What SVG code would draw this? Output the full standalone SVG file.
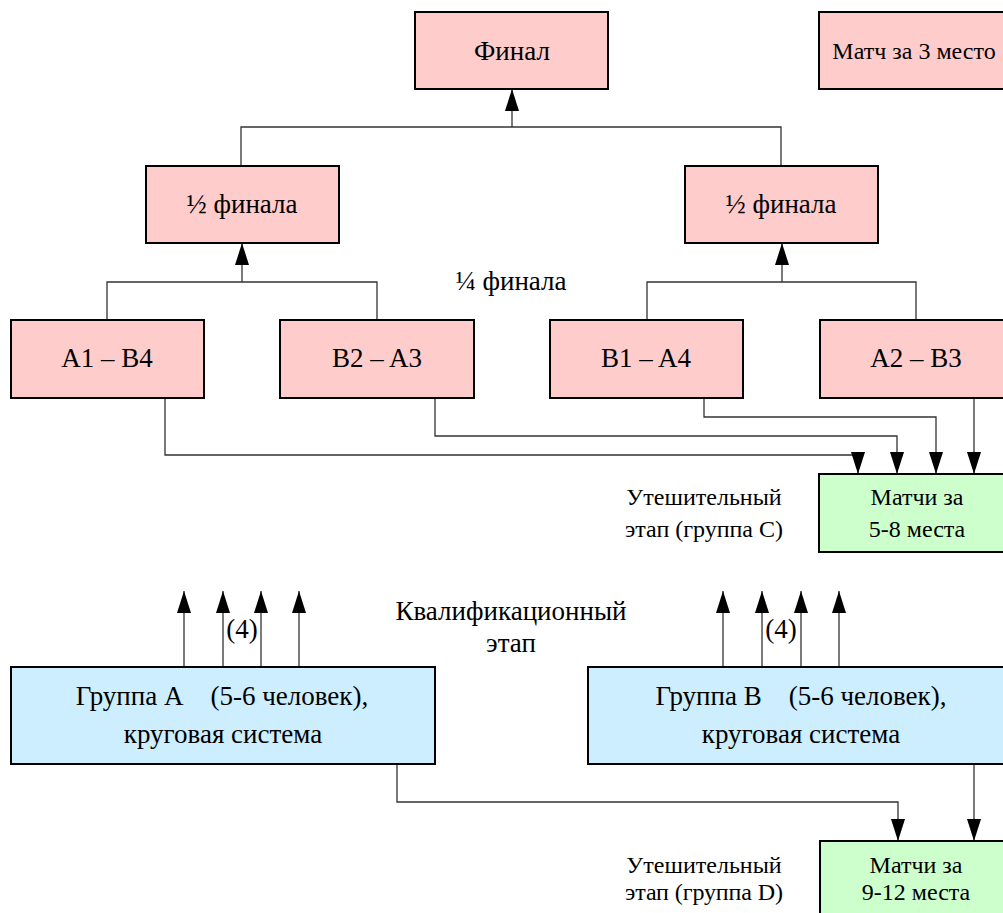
<svg xmlns="http://www.w3.org/2000/svg" width="1003" height="913" viewBox="0 0 1003 913">
<style>
.t text{font-family:'Liberation Serif','Times New Roman',serif;font-size:27px;fill:#000;text-anchor:middle;white-space:pre}
.t text.s{font-size:24px}
.pink{fill:#ffcccc;stroke:#000;stroke-width:2}
.green{fill:#ccffcc;stroke:#000;stroke-width:2}
.blue{fill:#cceeff;stroke:#000;stroke-width:2}
.c{fill:none;stroke:#333;stroke-width:1.3}
.ca{fill:none;stroke:#333;stroke-width:1.3;marker-end:url(#ah)}
</style>
<defs>
<marker id="ah" markerUnits="userSpaceOnUse" markerWidth="22" markerHeight="14" viewBox="0 0 22 14" refX="22" refY="7" orient="auto">
<path d="M0,0 L22,7 L0,14 Z" fill="#000"/>
</marker>
</defs>
<rect width="1003" height="913" fill="#fff"/>
<g id="connectors">
<path class="c" d="M241,166 V127 H781 V166"/>
<path class="ca" d="M512,127 V89"/>
<path class="c" d="M107,320 V282 H377 V320"/>
<path class="ca" d="M242,282 V243"/>
<path class="c" d="M647,320 V282 H916 V320"/>
<path class="ca" d="M782,282 V243"/>
<path class="ca" d="M165,398 V455 H858 V474"/>
<path class="ca" d="M435,398 V436 H897 V474"/>
<path class="ca" d="M704,398 V417 H936 V474"/>
<path class="ca" d="M974,398 V474"/>
<path class="ca" d="M184,667 V591"/>
<path class="ca" d="M223,667 V591"/>
<path class="ca" d="M261,667 V591"/>
<path class="ca" d="M299,667 V591"/>
<path class="ca" d="M723,667 V591"/>
<path class="ca" d="M762,667 V591"/>
<path class="ca" d="M801,667 V591"/>
<path class="ca" d="M839,667 V591"/>
<path class="ca" d="M397,764 V802 H898 V841"/>
<path class="ca" d="M974,764 V841"/>
</g>
<g class="t">
<g id="final"><rect class="pink" x="415" y="12" width="193" height="77"/><text x="512" y="60">Финал</text></g>
<g id="third"><rect class="pink" x="819" y="12" width="193" height="77"/><text class="s" x="914" y="59">Матч за 3 место</text></g>
<g id="semi-left"><rect class="pink" x="146" y="166" width="193" height="77"/><text x="242" y="213">½ финала</text></g>
<g id="semi-right"><rect class="pink" x="685" y="166" width="193" height="77"/><text x="781" y="213">½ финала</text></g>
<g id="quarter-label"><text x="511" y="290">¼ финала</text></g>
<g id="q1"><rect class="pink" x="11" y="320" width="193" height="78"/><text x="107" y="367">A1 – B4</text></g>
<g id="q2"><rect class="pink" x="280" y="320" width="194" height="78"/><text x="377" y="367">B2 – A3</text></g>
<g id="q3"><rect class="pink" x="550" y="320" width="193" height="78"/><text x="646" y="367">B1 – A4</text></g>
<g id="q4"><rect class="pink" x="820" y="320" width="193" height="78"/><text x="916" y="367">A2 – B3</text></g>
<g id="group-c-label"><text class="s" x="704" y="505">Утешительный</text><text class="s" x="704" y="537" textLength="158">этап (группа С)</text></g>
<g id="group-c"><rect class="green" x="819" y="474" width="195" height="78"/><text class="s" x="917" y="505">Матчи за</text><text class="s" x="917" y="537">5-8 места</text></g>
<g id="qual-label"><text x="511" y="620">Квалификационный</text><text x="511" y="652">этап</text></g>
<g id="four-a"><text x="242" y="638">(4)</text></g>
<g id="four-b"><text x="781" y="638">(4)</text></g>
<g id="group-a"><rect class="blue" x="11" y="667" width="424" height="97"/><text x="222" y="705">Группа А    (5-6 человек),</text><text x="223" y="743">круговая система</text></g>
<g id="group-b"><rect class="blue" x="588" y="667" width="425" height="97"/><text x="801" y="705">Группа В    (5-6 человек),</text><text x="801" y="743">круговая система</text></g>
<g id="group-d-label"><text class="s" x="704" y="873">Утешительный</text><text class="s" x="704" y="900" textLength="158">этап (группа D)</text></g>
<g id="group-d"><rect class="green" x="820" y="841" width="195" height="80"/><text class="s" x="916" y="873">Матчи за</text><text class="s" x="916" y="900">9-12 места</text></g>
</g>
</svg>
